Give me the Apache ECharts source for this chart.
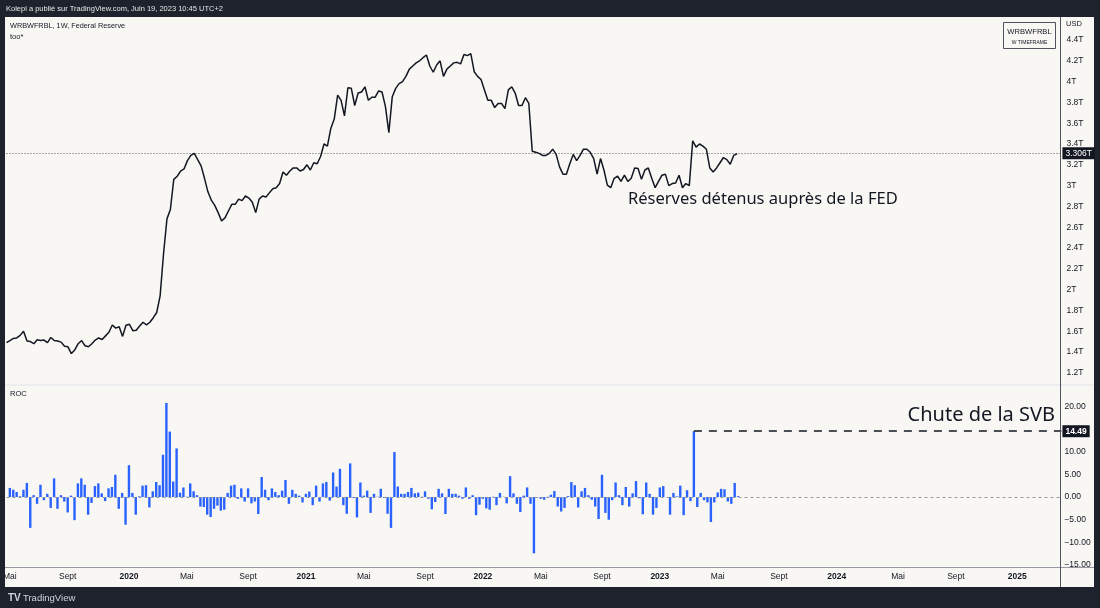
<!DOCTYPE html>
<html>
<head>
<meta charset="utf-8">
<script src="https://cdn.jsdelivr.net/npm/echarts@6/dist/echarts.min.js"></script>
<style>
html,body{margin:0;padding:0;background:#1e222d;}
#chart{width:1100px;height:608px;}
</style>
</head>
<body>
<div id="chart"></div>
<script>
// ---- data ----
const startWeek = '2019-05-06';
const totalWeeks = 310;
const reserves = [
1.49,1.51,1.53,1.535,1.56,1.60,1.506,1.50,1.48,1.518,
1.51,1.515,1.49,1.54,1.51,1.505,1.495,1.455,1.45,1.385,
1.42,1.48,1.51,1.46,1.45,1.48,1.515,1.535,1.52,1.555,
1.59,1.66,1.63,1.643,1.55,1.657,1.666,1.605,1.61,1.65,
1.686,1.66,1.686,1.73,1.78,1.94,2.345,2.68,2.77,3.06,
3.09,3.14,3.16,3.24,3.29,3.31,3.25,3.19,3.07,2.94,
2.86,2.81,2.74,2.66,2.69,2.756,2.82,2.82,2.87,2.855,
2.90,2.88,2.84,2.74,2.87,2.90,2.89,2.93,2.97,2.98,
3.02,3.13,3.10,3.14,3.17,3.17,3.14,3.155,3.20,3.15,
3.22,3.21,3.28,3.40,3.38,3.55,3.64,3.87,3.82,3.67,
3.94,3.935,3.77,3.89,3.90,3.95,3.82,3.85,3.85,3.91,
3.90,3.76,3.51,3.855,3.935,3.98,4.00,4.05,4.12,4.15,
4.18,4.20,4.23,4.256,4.15,4.09,4.16,4.20,4.05,4.12,
4.15,4.18,4.185,4.17,4.26,4.25,4.27,4.095,4.05,4.02,
3.92,3.82,3.82,3.75,3.79,3.79,3.74,3.92,3.95,3.89,
3.77,3.77,3.845,3.79,3.33,3.32,3.31,3.29,3.29,3.31,
3.35,3.30,3.18,3.11,3.11,3.21,3.30,3.24,3.29,3.35,
3.35,3.32,3.26,3.11,3.26,3.15,3.005,2.98,3.07,3.09,
3.04,3.10,3.04,3.07,3.17,3.165,3.06,3.15,3.17,3.07,
2.98,3.04,3.10,3.11,3.00,3.02,3.025,3.10,2.98,3.02,
3.00,3.43,3.37,3.40,3.38,3.35,3.17,3.13,3.17,3.22,
3.27,3.25,3.205,3.29,3.306
];
const roc = [
2.0,1.6,1.1,0.15,1.6,3.1,-6.8,0.4,-1.5,2.7,
-0.7,0.7,-2.4,4.1,-2.6,0.4,-1.0,-3.4,0.3,-5.1,
3.0,4.1,2.7,-3.9,-1.3,2.4,3.0,0.8,-0.9,1.9,
2.2,4.9,-2.6,0.9,-6.1,7.0,0.9,-3.9,0.15,2.5,
2.6,-2.3,1.25,3.3,2.6,9.3,20.7,14.4,3.4,10.7,
0.95,2.1,0.05,3.0,1.25,0.4,-2.1,-2.2,-3.9,-4.4,
-2.6,-1.9,-3.0,-2.8,0.9,2.5,2.7,-0.4,1.9,-1.0,
1.9,-1.4,-1.0,-3.75,4.4,1.6,-0.7,1.9,1.1,0.4,
1.4,3.75,-1.5,1.6,0.7,0.3,-1.2,0.7,1.2,-1.8,
2.5,-1.0,3.0,3.3,-0.8,5.4,2.3,6.2,-1.8,-3.7,
7.4,-0.2,-4.5,3.2,0.3,1.4,-3.5,0.7,0.05,1.8,
-0.2,-3.7,-6.8,9.9,2.3,0.7,0.7,1.1,2.0,0.8,
0.95,0.05,1.25,-0.4,-2.7,-1.1,1.8,0.8,-3.75,1.8,
0.7,0.7,0.3,-0.4,2.1,-0.4,0.4,-4.0,-1.7,-0.4,
-2.5,-2.8,0.05,-1.8,0.9,0.05,-1.4,4.6,0.8,-1.5,
-3.3,0.3,2.1,-1.5,-12.4,-0.1,-0.4,-0.6,0.05,0.5,
1.3,-2.1,-3.2,-2.4,0.2,3.3,2.6,-2.3,1.25,2.0,
0.4,-0.6,-2.1,-4.85,4.9,-3.5,-5.0,-0.7,3.2,0.4,
-1.8,2.2,-2.1,0.8,3.5,-0.3,-3.8,3.2,0.7,-3.9,
-2.4,2.1,2.4,0.0,-3.9,0.9,0.15,2.5,-4.0,1.5,
-0.9,14.49,-2.2,0.9,-0.7,-1.2,-5.5,-1.2,1.0,1.8,
1.7,-1.0,-1.5,3.1,0.2
];
const svbWeek = '2023-03-13';
const monthNames = {1:null, 5:'Mai', 9:'Sept'};

// ---- build categories ----
const weeks = [];
const t0 = Date.parse(startWeek + 'T00:00:00Z');
for (let i = 0; i < totalWeeks; i++) {
  weeks.push(new Date(t0 + i * 7 * 86400000).toISOString().slice(0, 10));
}
const svbIdx = weeks.indexOf(svbWeek);
const lastVal = reserves[reserves.length - 1];

const DARK = '#1e222d';
const BG = '#f8f7f3';
const TXT = '#131722';
const FONT = "'Noto Sans', sans-serif";
const AFONT = "'Liberation Sans', Arial, sans-serif";

function isLabelWeek(v) {
  const m = +v.slice(5, 7), d = +v.slice(8, 10);
  return d <= 7 && (m === 1 || m === 5 || m === 9);
}

const chart = echarts.init(document.getElementById('chart'));
const gridLeft = 6.5, gridWidth = 1054.9;

chart.setOption({
  backgroundColor: DARK,
  animation: false,
  grid: [
    {left: gridLeft, width: gridWidth, top: 19.2, height: 374.4},
    {left: gridLeft, width: gridWidth, top: 383.5, height: 181.6}
  ],
  xAxis: [
    {type: 'category', gridIndex: 0, data: weeks, boundaryGap: false, show: false},
    {type: 'category', gridIndex: 1, data: weeks, boundaryGap: false,
     axisLine: {show: false}, axisTick: {show: false}, splitLine: {show: false},
     axisLabel: {
       interval: (i, v) => isLabelWeek(v),
       margin: 7, fontSize: 8.5, fontFamily: AFONT, color: TXT,
       formatter: v => {
         const m = +v.slice(5, 7);
         if (m === 1) return '{y|' + v.slice(0, 4) + '}';
         return monthNames[m];
       },
       rich: {y: {fontWeight: 'bold', fontSize: 8.5, fontFamily: AFONT, color: TXT}}
     }}
  ],
  yAxis: [
    {type: 'value', gridIndex: 0, position: 'right', min: 1.0, max: 4.6, interval: 0.2,
     axisLine: {show: false}, axisTick: {show: false}, splitLine: {show: false},
     axisLabel: {showMinLabel: false, showMaxLabel: false, margin: 5, fontSize: 8.5,
       fontFamily: AFONT, color: TXT,
       formatter: v => (Math.round(v * 10) / 10) + 'T'}},
    {type: 'value', gridIndex: 1, position: 'right', min: -15, max: 25, interval: 5,
     axisLine: {show: false}, axisTick: {show: false}, splitLine: {show: false},
     axisLabel: {showMaxLabel: false, margin: 3, fontSize: 8.5, fontFamily: AFONT, color: TXT,
       formatter: v => {
         if (Math.abs(v - 15) < 1e-6) return '';
         return (v < 0 ? '\u2212' : '') + Math.abs(v).toFixed(2);
       }}}
  ],
  series: [
    {type: 'line', xAxisIndex: 0, yAxisIndex: 0, data: reserves, showSymbol: false,
     lineStyle: {color: TXT, width: 1.5}, z: 5,
     markLine: {silent: true, symbol: 'none', animation: false,
       lineStyle: {type: [1, 2], color: '#555', width: 1},
       label: {position: 'end', distance: 1, formatter: lastVal.toFixed(3) + 'T',
         backgroundColor: '#131722', color: '#fff', fontSize: 8.5, fontFamily: AFONT,
         padding: [2, 3, 1, 3]},
       data: [{yAxis: lastVal}]}},
    {type: 'bar', xAxisIndex: 1, yAxisIndex: 1, data: roc, barWidth: 2.4, clip: false,
     itemStyle: {color: '#2962ff'}, z: 4,
     markLine: {silent: true, symbol: 'none', animation: false,
       data: [
         [{yAxis: 0, x: gridLeft, lineStyle: {type: [3, 3], color: '#9598a1', width: 1}, label: {show: false}},
          {yAxis: 0, x: gridLeft + gridWidth}],
         [{coord: [weeks[svbIdx], roc[svbIdx]], lineStyle: {type: [8, 7], color: '#131722', width: 1.5},
           label: {show: true, position: 'end', distance: 1, formatter: roc[svbIdx].toFixed(2),
             backgroundColor: '#131722', color: '#fff', fontSize: 8.5, fontWeight: 'bold',
             fontFamily: AFONT, padding: [2, 3, 1, 3]}},
          {coord: [weeks[weeks.length - 1], roc[svbIdx]]}]
       ]}}
  ],
  graphic: [
    {type: 'rect', silent: true, z: -10, shape: {x: 5, y: 17, width: 1089, height: 570}, style: {fill: BG}},
    {type: 'rect', silent: true, z: 100, shape: {x: 0, y: 0, width: 5, height: 608}, style: {fill: DARK}},
    {type: 'line', silent: true, z: 50, shape: {x1: 5, y1: 385, x2: 1094, y2: 385}, style: {stroke: '#e0e3eb', lineWidth: 1}},
    {type: 'line', silent: true, z: 50, shape: {x1: 5, y1: 567.5, x2: 1094, y2: 567.5}, style: {stroke: '#9598a1', lineWidth: 1}},
    {type: 'line', silent: true, z: 50, shape: {x1: 1060.5, y1: 17, x2: 1060.5, y2: 587}, style: {stroke: '#50535e', lineWidth: 1}},
    {type: 'text', silent: true, z: 60, x: 6, y: 9, style: {text: 'Kolepi a publié sur TradingView.com, Juin 19, 2023 10:45 UTC+2',
      fill: '#e6e6e6', fontSize: 7.5, fontFamily: AFONT, textVerticalAlign: 'middle'}},
    {type: 'text', silent: true, z: 60, x: 10, y: 26, style: {text: 'WRBWFRBL, 1W, Federal Reserve',
      fill: TXT, fontSize: 7.3, fontFamily: AFONT, textVerticalAlign: 'middle'}},
    {type: 'text', silent: true, z: 60, x: 10, y: 37, style: {text: 'too*',
      fill: TXT, fontSize: 7.5, fontFamily: AFONT, textVerticalAlign: 'middle'}},
    {type: 'text', silent: true, z: 60, x: 10, y: 394, style: {text: 'ROC',
      fill: TXT, fontSize: 7.5, fontFamily: AFONT, textVerticalAlign: 'middle'}},
    {type: 'text', silent: true, z: 60, x: 1066, y: 24, style: {text: 'USD',
      fill: TXT, fontSize: 7.5, fontFamily: AFONT, textVerticalAlign: 'middle'}},
    {type: 'rect', silent: true, z: 60, shape: {x: 1003.5, y: 22.5, width: 52, height: 26},
      style: {fill: 'none', stroke: '#50535e', lineWidth: 1}},
    {type: 'text', silent: true, z: 60, x: 1029.5, y: 31.5, style: {text: 'WRBWFRBL',
      fill: TXT, fontSize: 7.6, fontFamily: AFONT, textAlign: 'center', textVerticalAlign: 'middle'}},
    {type: 'text', silent: true, z: 60, x: 1029.5, y: 42.5, style: {text: 'W TIMEFRAME',
      fill: TXT, fontSize: 5, fontFamily: AFONT, textAlign: 'center', textVerticalAlign: 'middle'}},
    {type: 'text', silent: true, z: 60, x: 628, y: 199, style: {text: 'Réserves détenus auprès de la FED',
      fill: TXT, fontSize: 16.5, fontFamily: FONT, textVerticalAlign: 'middle'}},
    {type: 'text', silent: true, z: 60, x: 1055, y: 415, style: {text: 'Chute de la SVB',
      fill: TXT, fontSize: 20, fontFamily: FONT, textAlign: 'right', textVerticalAlign: 'middle'}},
    {type: 'text', silent: true, z: 60, x: 8, y: 598, style: {text: 'TV',
      fill: '#d1d4dc', fontSize: 10, fontWeight: 'bold', fontFamily: AFONT, textVerticalAlign: 'middle'}},
    {type: 'text', silent: true, z: 60, x: 23, y: 598, style: {text: 'TradingView',
      fill: '#d1d4dc', fontSize: 9.5, fontFamily: AFONT, textVerticalAlign: 'middle'}}
  ]
});
</script>
</body>
</html>
